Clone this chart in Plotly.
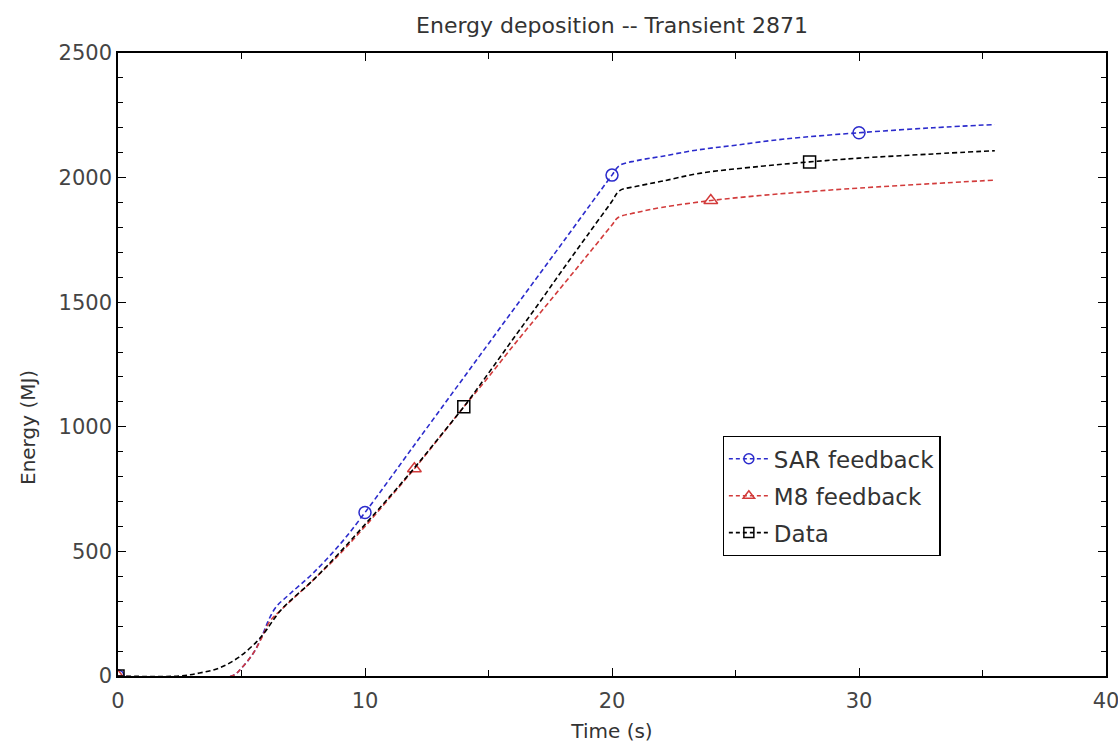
import plotly.graph_objects as go

# ---- data ----
sar_t = [0, 4.6, 5.0, 5.5, 5.85, 6.1, 6.4, 7.0, 7.9, 9.0, 10, 12, 14, 16, 18, 20, 20.3, 21, 22, 23.4, 25, 27, 30, 33, 35.5]
sar_e = [0, 0, 32, 95, 165, 225, 277, 333, 413, 530, 656, 927, 1198, 1469, 1739, 2010, 2048, 2068, 2085, 2110, 2130, 2155, 2180, 2200, 2213]

m8_t = [0, 4.6, 5.0, 5.5, 5.85, 6.15, 6.6, 7.9, 9, 10, 11, 12, 13, 14, 15, 16, 17, 18, 19, 20, 20.25, 21, 22, 24, 26, 28, 30, 33, 35.5]
m8_e = [0, 0, 32, 95, 160, 220, 265, 385, 492, 600, 715, 832, 955, 1080, 1200, 1325, 1446, 1567, 1688, 1810, 1840, 1860, 1880, 1908, 1928, 1944, 1958, 1976, 1990]

data_t = [0, 2.5, 3.3, 4.1, 4.9, 5.6, 5.9, 6.6, 7.9, 9, 10, 11, 12, 13, 14, 15, 16, 17, 18, 19, 20, 20.3, 21, 22, 23.6, 26, 28, 30, 33, 35.5]
data_e = [0, 0, 12, 32, 76, 136, 170, 265, 385, 498, 608, 720, 835, 957, 1080, 1215, 1353, 1490, 1630, 1768, 1905, 1947, 1965, 1985, 2018, 2045, 2063, 2078, 2095, 2108]

sar_mt = [0, 10, 20, 30]
sar_me = [0, 656, 2010, 2180]
m8_mt = [0, 12, 24]
m8_me = [0, 832, 1908]
data_mt = [0, 14, 28]
data_me = [0, 1080, 2063]

x_ticks = [0, 10, 20, 30, 40]
y_ticks = [0, 500, 1000, 1500, 2000, 2500]

BLUE = "#2b2bcc"
RED = "#d23b3b"
BLACK = "#000000"
FONT = "DejaVu Sans"

series = [
    ("SAR feedback", sar_t, sar_e, sar_mt, sar_me, BLUE, "circle-open"),
    ("M8 feedback", m8_t, m8_e, m8_mt, m8_me, RED, "triangle-up-open"),
    ("Data", data_t, data_e, data_mt, data_me, BLACK, "square-open"),
]

fig = go.Figure()
for name, t, e, mt, me, col, sym in series:
    fig.add_trace(go.Scatter(x=t, y=e, mode="lines", showlegend=False,
                             line=dict(color=col, width=1.6, dash="5px,3px"),
                             line_shape="spline", hoverinfo="skip"))
    fig.add_trace(go.Scatter(x=mt, y=me, mode="markers", showlegend=False,
                             marker=dict(symbol=sym, size=12, color=col,
                                         line=dict(width=1.5, color=col))))
for name, t, e, mt, me, col, sym in series:
    fig.add_trace(go.Scatter(x=[None], y=[None], mode="lines+markers", name=name,
                             legendgroup=name,
                             line=dict(color=col, width=1.6, dash="4px,3px"),
                             marker=dict(symbol=sym, size=10, color=col,
                                         line=dict(width=1.5, color=col))))

axis_common = dict(
    showline=True, linecolor="#000000", linewidth=1.5, mirror="allticks",
    ticks="inside", ticklen=8, tickwidth=1.2, tickcolor="#000000",
    showgrid=False, zeroline=False, automargin=False,
    ticklabeloverflow="allow",
    tickfont=dict(family=FONT, size=21, color="#444444"),
)

fig.update_xaxes(range=[0, 40], tickvals=x_ticks, ticktext=[str(v) for v in x_ticks],
                 minor=dict(dtick=5, ticks="inside", ticklen=6, tickcolor="#000000"),
                 ticklabelstandoff=5,
                 title=dict(text="Time (s)", font=dict(family=FONT, size=20, color="#333333"),
                            standoff=12),
                 **axis_common)
fig.update_yaxes(range=[0, 2500], tickvals=y_ticks, ticktext=[str(v) for v in y_ticks],
                 minor=dict(dtick=100, ticks="inside", ticklen=5, tickcolor="#000000"),
                 **axis_common)

fig.add_annotation(text="Energy (MJ)", textangle=-90, xref="paper", yref="paper",
                   x=(28 - 118) / 988, y=(676 - 428) / 623, xanchor="center", yanchor="middle",
                   showarrow=False, font=dict(family=FONT, size=20, color="#333333"))

fig.update_layout(
    width=1118, height=748,
    margin=dict(l=118, r=12, t=53, b=72),
    paper_bgcolor="white", plot_bgcolor="white",
    title=dict(text="Energy deposition -- Transient 2871", x=(118 + 1106) / 2 / 1118,
               xanchor="center", y=1 - 25 / 748, yanchor="middle",
               font=dict(family=FONT, size=22, color="#333333")),
    legend=dict(x=0.612, y=0.385, xanchor="left", yanchor="top",
                bgcolor="white", bordercolor="#000000", borderwidth=1.2,
                font=dict(family=FONT, size=23, color="#333333"),
                itemwidth=40, tracegroupgap=4),
    font=dict(family=FONT),
)

fig.write_html("out.html")
